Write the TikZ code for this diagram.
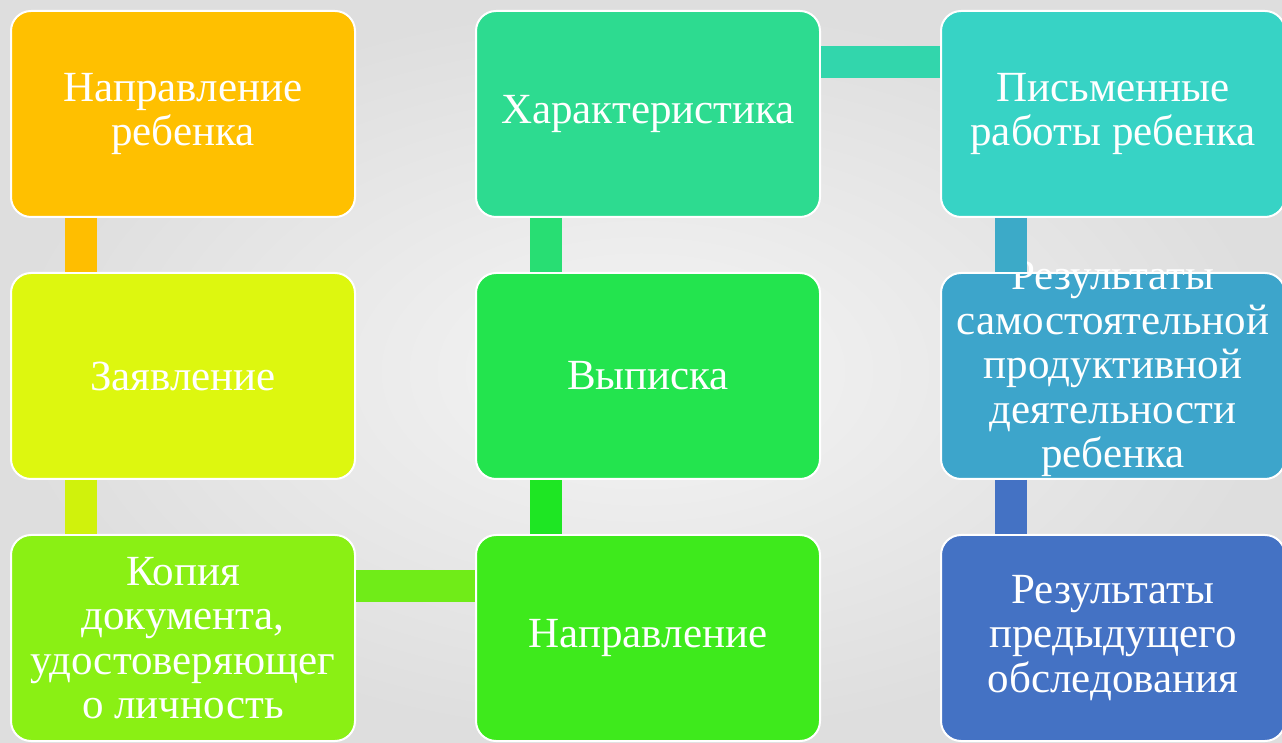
\documentclass[tikz,border=0pt]{standalone}
\usepackage{fontspec}
\setmainfont{Liberation Serif}
\usepackage{tikz}
\usetikzlibrary{positioning}

\definecolor{boxA}{RGB}{255,192,0}
\definecolor{boxB}{RGB}{221,247,15}
\definecolor{boxC}{RGB}{138,240,20}
\definecolor{boxD}{RGB}{62,234,28}
\definecolor{boxE}{RGB}{35,228,78}
\definecolor{boxF}{RGB}{45,219,144}
\definecolor{boxG}{RGB}{55,211,197}
\definecolor{boxH}{RGB}{61,165,203}
\definecolor{boxI}{RGB}{68,114,196}
\definecolor{barA}{RGB}{255,190,0}
\definecolor{barB}{RGB}{208,242,12}
\definecolor{barC}{RGB}{112,236,24}
\definecolor{barD}{RGB}{30,230,35}
\definecolor{barE}{RGB}{40,222,115}
\definecolor{barF}{RGB}{50,214,172}
\definecolor{barG}{RGB}{60,170,200}
\definecolor{barH}{RGB}{68,114,196}

\begin{document}
\begin{tikzpicture}[
    x=1pt, y=1pt,
    node distance=54pt and 119pt,
    docbox/.style={rectangle, rounded corners=20pt, draw=white, line width=2pt, text=white, align=center, minimum width=344pt, minimum height=206pt, inner sep=0pt, font=\fontsize{43}{44.5}\selectfont},
    bar/.style={line width=32pt, line cap=butt}
]
% Background
\useasboundingbox (0,0) rectangle (1282,742);
\clip (0,0) rectangle (1282,742);
\shade[inner color=black!4, outer color=black!13] (0,0) rectangle (1282,742);

% Column 1
\node[docbox, fill=boxA, anchor=north west] (napravRebenka) at (10,732) {Направление\\ребенка};
\node[docbox, fill=boxB, below=of napravRebenka] (zayavlenie) {Заявление};
\node[docbox, fill=boxC, below=of zayavlenie] (kopiya) {Копия\\документа,\\удостоверяющег\\о личность};

% Column 2
\node[docbox, fill=boxD, right=of kopiya] (napravlenie) {Направление};
\node[docbox, fill=boxE, above=of napravlenie] (vypiska) {Выписка};
\node[docbox, fill=boxF, above=of vypiska] (harakteristika) {Характеристика};

% Column 3
\node[docbox, fill=boxG, right=of harakteristika] (pismennye) {Письменные\\работы ребенка};
\node[docbox, fill=boxH, below=of pismennye] (samost) {\smash{\begin{tabular}{@{}c@{}}Результаты\\самостоятельной\\продуктивной\\деятельности\\ребенка\end{tabular}}};
\node[docbox, fill=boxI, below=of samost] (predyd) {Результаты\\предыдущего\\обследования};

% Bars
\draw[bar, draw=barA] ([xshift=71pt]napravRebenka.south west) -- ([xshift=71pt]zayavlenie.north west);
\draw[bar, draw=barB] ([xshift=71pt]zayavlenie.south west) -- ([xshift=71pt]kopiya.north west);
\draw[bar, draw=barC] ([yshift=-52pt]kopiya.north east) -- ([yshift=-52pt]napravlenie.north west);
\draw[bar, draw=barD] ([xshift=71pt]napravlenie.north west) -- ([xshift=71pt]vypiska.south west);
\draw[bar, draw=barE] ([xshift=71pt]vypiska.north west) -- ([xshift=71pt]harakteristika.south west);
\draw[bar, draw=barF] ([yshift=-52pt]harakteristika.north east) -- ([yshift=-52pt]pismennye.north west);
\draw[bar, draw=barG] ([xshift=71pt]pismennye.south west) -- ([xshift=71pt]samost.north west);
\draw[bar, draw=barH] ([xshift=71pt]samost.south west) -- ([xshift=71pt]predyd.north west);
\end{tikzpicture}
\end{document}
